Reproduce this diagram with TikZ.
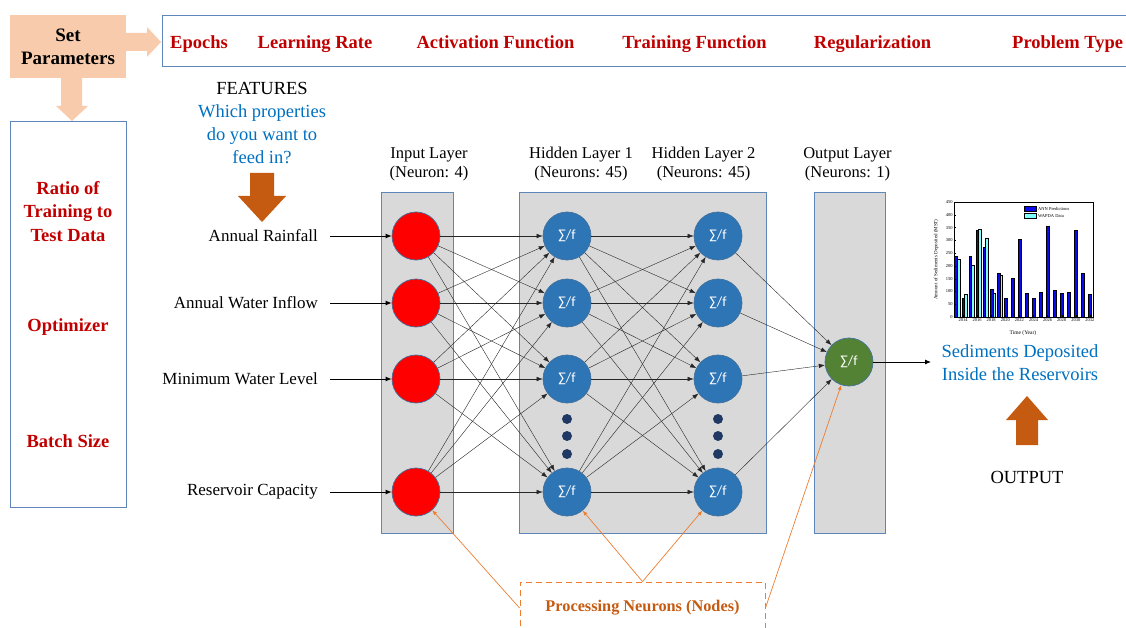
\documentclass[tikz,border=0pt]{standalone}
\usepackage{fontspec}
\setmainfont{Liberation Serif}
\newfontfamily\sumfont{Carlito}
\usepackage{tikz}
\usetikzlibrary{arrows.meta,positioning}
\definecolor{peach}{HTML}{F8CBAD}
\definecolor{pred}{HTML}{C00000}
\definecolor{frameblue}{HTML}{5F86BA}
\definecolor{layergray}{HTML}{D9D9D9}
\definecolor{nblue}{HTML}{2E75B6}
\definecolor{ngreen}{HTML}{548235}
\definecolor{nborder}{HTML}{41719C}
\definecolor{qblue}{HTML}{0070C0}
\definecolor{rust}{HTML}{C55A11}
\definecolor{lorange}{HTML}{ED7D31}
\definecolor{dotnavy}{HTML}{1F3864}
\definecolor{annblue}{HTML}{0A0AEE}
\definecolor{wapcyan}{HTML}{80FFFF}

\begin{document}
\begin{tikzpicture}[x=1pt, y=-1pt,
    P/.style = {font=\fontsize{18.5}{23.5}\selectfont\bfseries,% red parameter names
                text=pred, align=center},
    L/.style = {font=\fontsize{16.5}{19}\selectfont, align=center},% layer titles
    F/.style = {font=\fontsize{17}{19}\selectfont},% feature names
    Q/.style = {font=\fontsize{18.5}{23}\selectfont, align=center},
    layer/.style = {draw=frameblue, fill=layergray, line width=0.7pt},
    N/.style = {circle, draw=nborder, line width=0.7pt,% neurons
                minimum size=48pt, inner sep=0pt,
                text=white, font=\sumfont\fontsize{14}{14}\selectfont},
    conn/.style = {-{Latex[length=6pt,width=4.5pt]}, line width=0.4pt, black!85},
    feed/.style = {-{Latex[length=6pt,width=5pt]}, line width=0.9pt},
    note/.style = {-{Latex[length=5pt,width=4pt]}, lorange, line width=0.7pt},
    tick/.style = {font=\fontsize{4.5}{4.5}\selectfont, inner sep=1pt},
                        ]
\useasboundingbox (0,0) rectangle (1126,628);

% parameters
\node[fill=peach, minimum width=116pt, minimum height=63pt, align=center,
      font=\fontsize{19}{23}\selectfont\bfseries] (setp) at (68,46.5) {Set\\Parameters};
\fill[peach] (126,33) -- (147,33) -- (147,27) -- (161,42) -- (147,57) -- (147,51) -- (126,51) -- cycle;
\fill[peach] (61,78) -- (82,78) -- (82,106) -- (88,106) -- (72,121) -- (56,106) -- (61,106) -- cycle;
\draw[frameblue, line width=0.8pt] (162,15) rectangle (1140,66);
\draw[frameblue, line width=0.8pt] (10,121) rectangle (126,507);
\foreach \t/\x in {Epochs/199, Learning Rate/315, Activation Function/495.5,
                   Training Function/694.5, Regularization/872.5}
    \node[P, anchor=base] at (\x,48.5) {\t};
\node[P, anchor=base west, inner xsep=0pt] at (1012,48.5) {Problem Type};
\node[P] at (68,211.5) {Ratio of\\Training to\\Test Data};
\node[P] at (68,327) {Optimizer};
\node[P] at (68,441) {Batch Size};

% features
\node[Q] (feat) at (262,88) {FEATURES};
\node[Q, text=qblue] (ask) at (262,134) {Which properties\\do you want to\\feed in?};
\fill[rust] (250,173) -- (274,173) -- (274,196) -- (286,196) -- (262,222) -- (238,196) -- (250,196) -- cycle;

% layers
\draw[layer] (381,192) rectangle (453,533);
\draw[layer] (519,192) rectangle (766,533);
\draw[layer] (814,192) rectangle (885,533);
\node[L] at (429,164.5) {Input Layer\\(Neuron: 4)};
\node[L] at (581,164.5) {Hidden Layer 1\\(Neurons: 45)};
\node[L] at (703.5,164.5) {Hidden Layer 2\\(Neurons: 45)};
\node[L] at (847.5,164.5) {Output Layer\\(Neurons: 1)};

\foreach \y [count=\i] in {236,303,379,492} {
    \node[N, fill=red] (in\i) at (416,\y) {};
    \node[N, fill=nblue] (ha\i) at (567,\y) {∑/f};
    \node[N, fill=nblue] (hb\i) at (718,\y) {∑/f};
}
\node[N, fill=ngreen] (out) at (849,362) {∑/f};
\foreach \y in {419,436,454} {
    \fill[dotnavy] (567,\y) circle (5pt);
    \fill[dotnavy] (718,\y) circle (5pt);
}
\foreach \i in {1,...,4}
    \foreach \j in {1,...,4} {
        \draw[conn] (in\i) -- (ha\j);
        \draw[conn] (ha\i) -- (hb\j);
    }
\foreach \i in {1,...,4}
    \draw[conn] (hb\i) -- (out);

\foreach \t/\y [count=\i] in {Annual Rainfall/236, Annual Water Inflow/303,
                              Minimum Water Level/379, Reservoir Capacity/492} {
    \node[F, anchor=east, inner xsep=0pt] (f\i) at (318,\y) {\t};
    \draw[feed] ([xshift=12pt]f\i.east) -- (in\i);
}

% output chart
\coordinate (res) at (931,362);
\draw[feed] (out) -- (res);
\begin{scope}[shift={(963,317)}, x=7.05pt, y=0.2556pt]
  \foreach \k/\v in {-1/240,0/75,1/240,2/340,3/275,4/110,5/172,6/75,7/152,8/305,
                     9/93,10/75,11/97,12/355,13/107,14/92,15/97,16/340,17/170,18/90}
      \filldraw[fill=annblue, line width=0.2pt] (\k-0.2,0) rectangle (\k+0.2,\v);
  \foreach \k/\v in {-1/228,0/90,1/203,2/342,3/310,4/92,5/165}
      \filldraw[fill=wapcyan, line width=0.2pt] (\k+0.2,0) rectangle (\k+0.6,\v);
  \draw[line width=0.35pt] (-1.3,0) rectangle (18.4,450);
  \foreach \v in {0,50,...,450} {
      \draw[line width=0.25pt] (-1.3,\v) -- ++(0.3,0);
      \node[tick, anchor=east] at (-1.3,\v) {\v};
  }
  \foreach \k in {0,2,...,18} {
      \pgfmathtruncatemacro\yr{2014+\k}
      \draw[line width=0.25pt] (\k,0) -- ++(0,8);
      \node[tick, anchor=north] at (\k,0) {\yr};
  }
  \node[rotate=90, font=\fontsize{5}{5}\selectfont] at (-3.8,225) {Amount of Sediments Deposited (MST)};
  \node[font=\fontsize{5.5}{5.5}\selectfont] at (8.5,-62) {Time (Year)};
\end{scope}
\filldraw[fill=annblue, line width=0.2pt] (1024,206) rectangle (1036,211.5);
\filldraw[fill=wapcyan, line width=0.2pt] (1024,213) rectangle (1036,218.5);
\node[tick, anchor=west] at (1037,208.7) {ANN Predictions};
\node[tick, anchor=west] at (1037,215.7) {WAPDA Data};

\node[Q, text=qblue] (sed) at (1020,362.5) {Sediments Deposited\\Inside the Reservoirs};
\fill[rust] (1016,445) -- (1016,420) -- (1006,420) -- (1027,396) -- (1048,420) -- (1038,420) -- (1038,445) -- cycle;
\node[Q] (outp) at (1027,477) {OUTPUT};

% processing neurons
\node[draw=lorange, dashed, dash pattern=on 6pt off 4pt, line width=0.9pt,
      minimum width=245pt, minimum height=52pt, text=rust,
      font=\fontsize{16.3}{19}\selectfont\bfseries] (proc) at (642.5,608) {Processing Neurons (Nodes)};
\draw[note] (proc.west) -- (in4);
\draw[note] (proc.north) -- (ha4);
\draw[note] (proc.north) -- (hb4);
\draw[note] (proc.east) -- (out);
\end{tikzpicture}
\end{document}
